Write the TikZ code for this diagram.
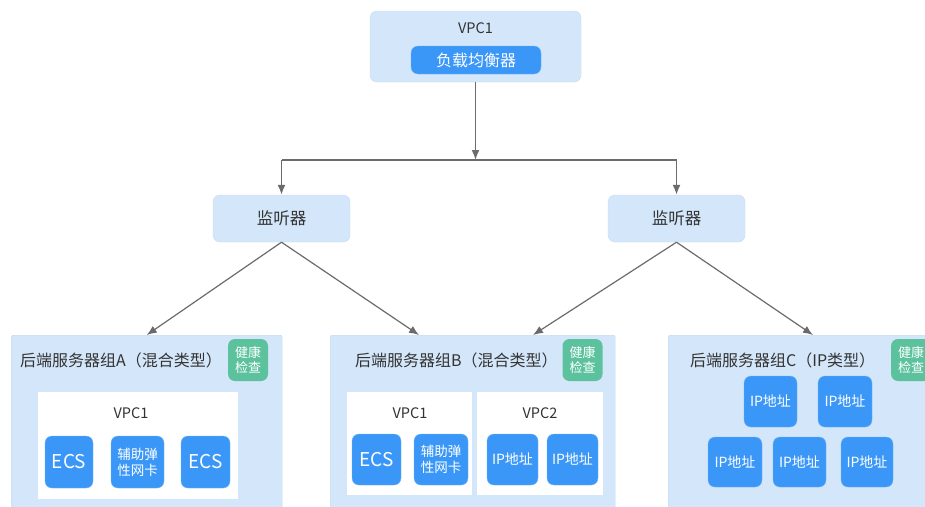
\documentclass[tikz,border=0pt]{standalone}
\usepackage{fontspec}
\usetikzlibrary{arrows.meta}
\setmainfont{Noto Sans CJK SC}
\definecolor{paleblue}{HTML}{D4E6F9}
\definecolor{paleline}{HTML}{C6DAF0}
\definecolor{btnblue}{HTML}{3A97F7}
\definecolor{btnline}{HTML}{6FB3F8}
\definecolor{checkgreen}{HTML}{5BC29D}
\definecolor{linegray}{HTML}{6B6B6B}
\definecolor{txt}{HTML}{333333}

\begin{document}
\begin{tikzpicture}[x=1pt,y=-1pt]
\tikzstyle{box}=[draw=paleline, fill=paleblue, rounded corners=7pt, inner sep=0pt]
\tikzstyle{group}=[draw=paleline, fill=paleblue, rounded corners=2pt, inner sep=0pt, anchor=north west]
\tikzstyle{vpcbox}=[fill=white, inner sep=0pt]
\tikzstyle{btn}=[draw=btnline, fill=btnblue, text=white, rounded corners=7pt, inner sep=0pt, align=center, font=\fontsize{14}{16}\selectfont]
\tikzstyle{badge}=[fill=checkgreen, text=white, rounded corners=7pt, inner sep=0pt, minimum width=40pt, minimum height=42pt, align=center, font=\fontsize{13}{15}\selectfont]
\tikzstyle{title}=[text=txt, inner sep=0pt, anchor=west, font=\fontsize{16}{18}\selectfont]
\tikzstyle{label}=[text=txt, inner sep=0pt, font=\fontsize{14.5}{16}\selectfont]
\tikzstyle{arrow}=[draw=linegray, line width=1.6pt, -{Latex[length=10pt,width=8pt]}]

\useasboundingbox (0,0) rectangle (925,506);
\clip (0,0) rectangle (925,506);

% load balancer
\node[box, minimum width=211pt, minimum height=71pt] (Top) at (475.5,46.5) {};
\node[label] (TopVPC) at (475.5,28) {VPC1};
\node[btn, minimum width=130pt, minimum height=28pt, font=\fontsize{16}{18}\selectfont] (LB) at (476,60) {负载均衡器};

% listeners
\node[box, minimum width=137pt, minimum height=47pt, text=txt, font=\fontsize{16.5}{18}\selectfont] (L1) at (281.5,218.5) {监听器};
\node[box, minimum width=137pt, minimum height=47pt, text=txt, font=\fontsize{16.5}{18}\selectfont] (L2) at (676.5,218.5) {监听器};

% group A
\node[group, minimum width=271pt, minimum height=190pt] (GA) at (11,335) {};
\node[title] (TA) at (20,360) {后端服务器组A（混合类型）};
\node[badge] (HA) at (248,360) {健康\\检查};
\node[vpcbox, minimum width=200pt, minimum height=107pt] (VA) at (138,445.5) {};
\node[label] at (131,413) {VPC1};
\node[btn, minimum width=48pt, minimum height=52pt, font=\fontsize{19}{20}\selectfont] (A1) at (69,462) {ECS};
\node[btn, minimum width=53pt, minimum height=52pt, font=\fontsize{13.5}{16}\selectfont] (A2) at (137.5,462) {辅助弹\\性网卡};
\node[btn, minimum width=49pt, minimum height=52pt, font=\fontsize{19}{20}\selectfont] (A3) at (205.5,462) {ECS};

% group B
\node[group, minimum width=285pt, minimum height=190pt] (GB) at (330,335) {};
\node[title] (TB) at (355,360) {后端服务器组B（混合类型）};
\node[badge] (HB) at (582.5,360) {健康\\检查};
\node[vpcbox, minimum width=125pt, minimum height=103pt] (VB1) at (409.5,443.5) {};
\node[vpcbox, minimum width=126pt, minimum height=103pt] (VB2) at (540,443.5) {};
\node[label] at (410,413) {VPC1};
\node[label] at (540,413) {VPC2};
\node[btn, minimum width=49pt, minimum height=51pt, font=\fontsize{19}{20}\selectfont] (B1) at (376.5,459.5) {ECS};
\node[btn, minimum width=54pt, minimum height=51pt, font=\fontsize{13.5}{16}\selectfont] (B2) at (441,459.5) {辅助弹\\性网卡};
\node[btn, minimum width=51pt, minimum height=51pt] (B3) at (512.5,459.5) {IP地址};
\node[btn, minimum width=51pt, minimum height=51pt] (B4) at (572.5,459.5) {IP地址};

% group C
\node[group, minimum width=290pt, minimum height=190pt] (GC) at (668,335) {};
\node[title] (TC) at (690,360) {后端服务器组C（IP类型）};
\node[badge] (HC) at (911,360) {健康\\检查};
\node[btn, minimum width=53pt, minimum height=51pt] (C1) at (770.5,401.5) {IP地址};
\node[btn, minimum width=54pt, minimum height=51pt] (C2) at (845,401.5) {IP地址};
\node[btn, minimum width=54pt, minimum height=50pt] (C3) at (735,462) {IP地址};
\node[btn, minimum width=53pt, minimum height=50pt] (C4) at (799.5,462) {IP地址};
\node[btn, minimum width=52pt, minimum height=50pt] (C5) at (867,462) {IP地址};

% connectors
\coordinate (J) at (475.5,160);
\coordinate (inB1) at (419,335);
\coordinate (inB2) at (533,335);
\coordinate (inC) at (813,335);

\draw[arrow] (Top) -- (J);
\draw[draw=linegray, line width=1.6pt] (J -| L1) -- (J -| L2);
\draw[arrow] (J -| L1) -- (L1);
\draw[arrow] (J -| L2) -- (L2);

\path
(L1.south) edge[arrow, line width=1.2pt] (GA.north)
           edge[arrow, line width=1.2pt] (inB1)
(L2.south) edge[arrow, line width=1.2pt] (inB2)
           edge[arrow, line width=1.2pt] (inC);

\end{tikzpicture}
\end{document}
